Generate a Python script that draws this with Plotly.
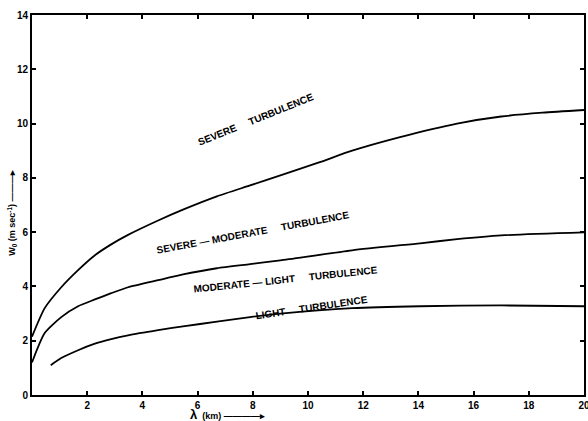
import plotly.graph_objects as go

# Data
lam_severe = [0.0, 0.46, 1.06, 1.67, 2.28, 2.87, 3.48, 4.57, 5.47, 6.7, 7.9, 9.0, 10.4, 11.6, 13.3, 15.4, 17.0, 18.5, 20.0]
w_severe = [2.15, 3.2, 3.97, 4.6, 5.15, 5.55, 5.9, 6.43, 6.83, 7.32, 7.72, 8.09, 8.57, 9.0, 9.49, 10.0, 10.26, 10.4, 10.5]

lam_moderate = [0.0, 0.46, 1.06, 1.67, 2.28, 2.87, 3.48, 4.57, 5.47, 6.7, 7.9, 9.0, 11.6, 14.06, 15.4, 17.0, 20.0]
w_moderate = [1.2, 2.28, 2.87, 3.27, 3.52, 3.75, 3.97, 4.23, 4.44, 4.67, 4.82, 4.96, 5.33, 5.59, 5.74, 5.88, 5.99]

lam_light = [0.68, 1.06, 1.67, 2.28, 2.87, 3.48, 4.57, 5.47, 6.7, 7.9, 9.0, 11.6, 14.06, 17.0, 20.0]
w_light = [1.1, 1.36, 1.65, 1.89, 2.06, 2.2, 2.39, 2.53, 2.7, 2.87, 3.0, 3.2, 3.27, 3.3, 3.27]

x_ticks = [2, 4, 6, 8, 10, 12, 14, 16, 18, 20]
y_ticks = [0, 2, 4, 6, 8, 10, 12, 14]

region_labels = ["SEVERE     TURBULENCE", "SEVERE \u2014 MODERATE     TURBULENCE",
                 "MODERATE \u2014 LIGHT     TURBULENCE", "LIGHT     TURBULENCE"]
label_x = [8.1, 8.0, 9.17, 10.14]
label_y = [10.15, 6.0, 4.26, 3.24]
label_angle = [-22, -10.5, -6, -8.5]

fig = go.Figure()
for xs, ys in [(lam_severe, w_severe), (lam_moderate, w_moderate), (lam_light, w_light)]:
    fig.add_trace(go.Scatter(x=xs, y=ys, mode="lines",
                             line=dict(color="black", width=1.8, shape="spline", smoothing=0.6),
                             showlegend=False, hoverinfo="skip"))

font_main = "Liberation Sans"
for t, x, y, a in zip(region_labels, label_x, label_y, label_angle):
    fig.add_annotation(x=x, y=y, text="<b>" + t + "</b>", textangle=a, showarrow=False,
                       font=dict(family=font_main, size=10, color="black"))

fig.add_annotation(xref="paper", yref="paper", x=-0.036, xanchor="center", y=0.48, yanchor="middle",
                   text="<b>W<sub>0</sub> (m sec<sup>-1</sup>) \u2014\u2014\u2014\u25b8</b>", textangle=-90,
                   showarrow=False, font=dict(family=font_main, size=9, color="black"))
fig.add_annotation(xref="paper", yref="paper", x=0.355, xanchor="center", y=-0.05, yanchor="middle",
                   text="<b><span style='font-size:13px'>\u03bb</span>  (km) \u2014\u2014\u2014\u2014\u25b8</b>",
                   showarrow=False, font=dict(family=font_main, size=9, color="black"))

axis_common = dict(showgrid=False, zeroline=False, showline=True, linecolor="black", linewidth=2,
                   mirror="ticks", ticks="inside", ticklen=4, tickwidth=1.5, tickcolor="black",
                   automargin=False, ticklabeloverflow="allow",
                   tickfont=dict(family=font_main, size=10, color="black"))
fig.update_xaxes(range=[0, 20], tickvals=x_ticks, ticktext=[f"<b>{v}</b>" for v in x_ticks], **axis_common)
fig.update_yaxes(range=[0, 14], tickvals=y_ticks, ticktext=[f"<b>{v}</b>" for v in y_ticks], **axis_common)

fig.update_layout(width=588, height=421, margin=dict(l=32, r=4, t=15, b=26),
                  plot_bgcolor="white", paper_bgcolor="white")
fig.write_html("out.html", config={"displayModeBar": False},
               post_script="document.body.style.margin='0';document.body.style.overflow='hidden';")
